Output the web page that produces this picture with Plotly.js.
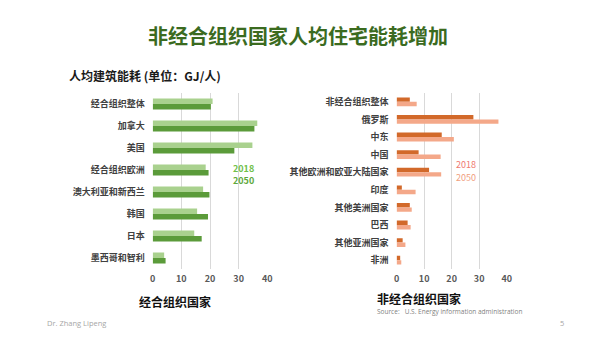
<!DOCTYPE html>
<html>
<head>
<meta charset="utf-8">
<script src="https://cdn.plot.ly/plotly-3.0.1.min.js"></script>
<style>
html,body{margin:0;padding:0;background:#fff;}
#chart{width:600px;height:337px;}
</style>
</head>
<body>
<div id="chart"></div>
<script>
// OECD (left)
const oecdCategories = ["经合组织整体","加拿大","美国","经合组织欧洲","澳大利亚和新西兰","韩国","日本","墨西哥和智利"];
const oecd2018 = [20.9, 36.5, 34.8, 18.5, 17.6, 15.5, 14.5, 4.0];
const oecd2050 = [20.3, 35.5, 28.5, 19.5, 19.8, 19.3, 17.1, 4.5];
// Non-OECD (right)
const nonOecdCategories = ["非经合组织整体","俄罗斯","中东","中国","其他欧洲和欧亚大陆国家","印度","其他美洲国家","巴西","其他亚洲国家","非洲"];
const nonOecd2018 = [4.8, 27.9, 16.4, 8.0, 11.8, 1.9, 4.8, 4.0, 2.2, 1.3];
const nonOecd2050 = [7.3, 37.0, 20.8, 16.0, 16.2, 6.9, 5.5, 5.1, 3.2, 1.7];
const xTicks = [0, 10, 20, 30, 40];
const seriesNames = ["2018", "2050"];

const FONT = '"Noto Sans CJK SC", "Noto Sans", sans-serif';

const traces = [
  {type:'bar', orientation:'h', name:seriesNames[0], y:oecdCategories, x:oecd2018,
   marker:{color:'#a9d18e'}, xaxis:'x', yaxis:'y', hoverinfo:'x'},
  {type:'bar', orientation:'h', name:seriesNames[1], y:oecdCategories, x:oecd2050,
   marker:{color:'#5b9b3a'}, xaxis:'x', yaxis:'y', hoverinfo:'x'},
  {type:'bar', orientation:'h', name:seriesNames[0], y:nonOecdCategories, x:nonOecd2018,
   marker:{color:'#d2692a'}, xaxis:'x2', yaxis:'y2', hoverinfo:'x'},
  {type:'bar', orientation:'h', name:seriesNames[1], y:nonOecdCategories, x:nonOecd2050,
   marker:{color:'#f4a889'}, xaxis:'x2', yaxis:'y2', hoverinfo:'x'}
];

const xAxisCommon = {
  range:[0,40], tickvals:xTicks, ticktext:xTicks.map(String),
  showgrid:true, gridcolor:'#d9d9d9', gridwidth:1, zeroline:false, showline:false,
  tickfont:{family:FONT, size:9, color:'#595959', weight:'bold'}, ticks:'', ticklabelstandoff:3, fixedrange:true
};
const yAxisCommon = {
  type:'category', autorange:'reversed', showgrid:false, zeroline:false, showline:false,
  ticks:'', ticklabelstandoff:7,
  tickfont:{family:FONT, size:9, color:'#404040', weight:'bold'}, fixedrange:true
};

const layout = {
  width:600, height:337,
  margin:{l:0, r:0, t:0, b:0},
  paper_bgcolor:'#ffffff', plot_bgcolor:'#ffffff',
  showlegend:false,
  barmode:'group', bargap:0.5, bargroupgap:0,
  xaxis: Object.assign({}, xAxisCommon, {domain:[0.2545, 0.4455], anchor:'y'}),
  yaxis: Object.assign({}, yAxisCommon, {domain:[0.2018, 0.724], anchor:'x'}),
  xaxis2: Object.assign({}, xAxisCommon, {domain:[0.661, 0.8445], anchor:'y2'}),
  yaxis2: Object.assign({}, yAxisCommon, {domain:[0.2018, 0.724], anchor:'x2'}),
  title:{text:''},
  annotations:[
    {text:'非经合组织国家人均住宅能耗增加', xref:'paper', yref:'paper', x:298/600, y:1-35/337,
     xanchor:'center', yanchor:'middle', showarrow:false,
     font:{family:FONT, size:20, color:'#3b6b1f', weight:'bold'}},
    {text:'人均建筑能耗 (单位：GJ/人)', xref:'paper', yref:'paper', x:67/600, y:1-75/337,
     xanchor:'left', yanchor:'middle', showarrow:false,
     font:{family:FONT, size:12, color:'#1a1a1a', weight:'bold'}},
    {text:seriesNames[0], xref:'paper', yref:'paper', x:243/600, y:1-168/337,
     xanchor:'center', yanchor:'middle', showarrow:false,
     font:{family:FONT, size:9, color:'#70c04a', weight:'bold'}},
    {text:seriesNames[1], xref:'paper', yref:'paper', x:243/600, y:1-180/337,
     xanchor:'center', yanchor:'middle', showarrow:false,
     font:{family:FONT, size:9, color:'#5ea83c', weight:'bold'}},
    {text:seriesNames[0], xref:'paper', yref:'paper', x:466/600, y:1-165/337,
     xanchor:'center', yanchor:'middle', showarrow:false,
     font:{family:FONT, size:9, color:'#f07a70'}},
    {text:seriesNames[1], xref:'paper', yref:'paper', x:466/600, y:1-177.5/337,
     xanchor:'center', yanchor:'middle', showarrow:false,
     font:{family:FONT, size:9, color:'#f0a080'}},
    {text:'经合组织国家', xref:'paper', yref:'paper', x:137/600, y:1-301.5/337,
     xanchor:'left', yanchor:'middle', showarrow:false,
     font:{family:FONT, size:12, color:'#111111', weight:'bold'}},
    {text:'非经合组织国家', xref:'paper', yref:'paper', x:375/600, y:1-298/337,
     xanchor:'left', yanchor:'middle', showarrow:false,
     font:{family:FONT, size:12, color:'#111111', weight:'bold'}},
    {text:'Source:   U.S. Energy information administration', xref:'paper', yref:'paper', x:375/600, y:1-311/337,
     xanchor:'left', yanchor:'middle', showarrow:false,
     font:{family:'"Open Sans", sans-serif', size:6.5, color:'#7f7f7f'}},
    {text:'Dr. Zhang Lipeng', xref:'paper', yref:'paper', x:45/600, y:1-323/337,
     xanchor:'left', yanchor:'middle', showarrow:false,
     font:{family:'"Open Sans", sans-serif', size:7.5, color:'#a6a6a6'}},
    {text:'5', xref:'paper', yref:'paper', x:562/600, y:1-323/337,
     xanchor:'center', yanchor:'middle', showarrow:false,
     font:{family:'"Open Sans", sans-serif', size:7.5, color:'#a6a6a6'}}
  ]
};

Plotly.newPlot('chart', traces, layout, {staticPlot:true, displayModeBar:false});
</script>
</body>
</html>
